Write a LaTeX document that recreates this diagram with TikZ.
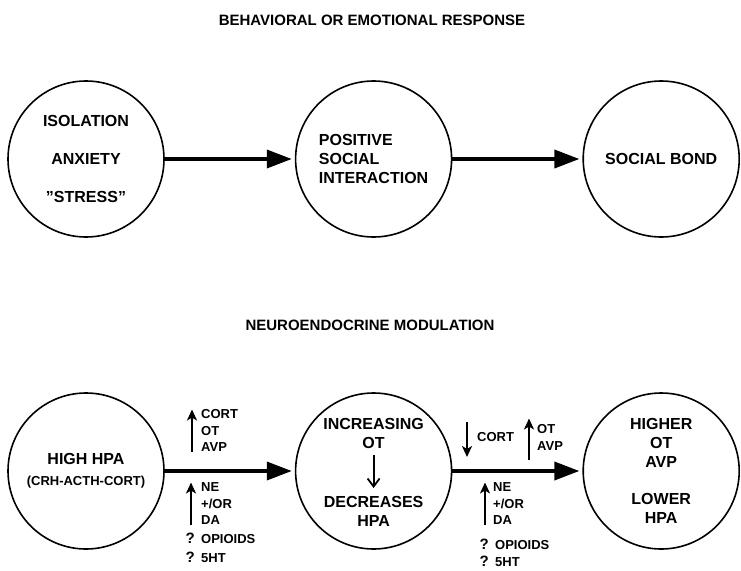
\documentclass[tikz,border=0pt]{standalone}
\usepackage{fontspec}
\setmainfont{Liberation Sans}
\usetikzlibrary{arrows.meta,positioning}

\begin{document}
\begin{tikzpicture}[
  x=1pt, y=-1pt,
  font=\bfseries\fontsize{16}{19}\selectfont,
  disc/.style={
    circle, draw=black, line width=1.6pt, minimum size=156pt,
    inner sep=0pt, align=center
  },
  core/.style={inner sep=0pt, align=center},
  heading/.style={font=\bfseries\fontsize{15}{18}\selectfont},
  lbl/.style={font=\bfseries\fontsize{13}{16.5}\selectfont, align=left, inner sep=0pt},
  qlbl/.style={font=\bfseries\fontsize{13}{19}\selectfont, align=left, inner sep=0pt},
  qmark/.style={font=\bfseries\fontsize{15}{19}\selectfont, align=left, inner sep=0pt},
  arr/.style={-{Triangle[length=25pt,width=18pt]}, line width=3.6pt, shorten >=3pt},
  tick/.style={-{Stealth[length=11pt,width=10pt,inset=3pt]}, line width=2.6pt},
  barb/.style={-{Straight Barb[length=8pt,width=12pt]}, line width=1.8pt},
]
\useasboundingbox (0,0) rectangle (741,570);

% headings
\node[heading] (behav) at (372,20) {BEHAVIORAL OR EMOTIONAL RESPONSE};
\node[heading] (neuro) at (370,325) {NEUROENDOCRINE MODULATION};

% behavioral row
\node[disc] (iso) at (86,159) {ISOLATION\\[19pt]ANXIETY\\[19pt]\symbol{34}STRESS\symbol{34}};
\node[disc, align=left, right=130pt of iso] (pos) {POSITIVE\\SOCIAL\\INTERACTION};
\node[disc, right=130pt of pos] (bond) {SOCIAL BOND};

\draw[arr] (iso) -- (pos);
\draw[arr] (pos) -- (bond);

% neuroendocrine row
\node[disc] (hpa) at (86,471) {HIGH HPA\\[2pt]{\fontsize{13}{16}\selectfont (CRH-ACTH-CORT)}};
\node[disc, right=130pt of hpa] (incr) {};
\node[core, above=22pt of incr.center] (incrtop) {INCREASING\\OT};
\node[core, below=25pt of incr.center] (incrbot) {DECREASES\\HPA};
\draw[barb, shorten <=6pt, shorten >=8pt] (incrtop) -- (incrbot);
\node[disc, right=130pt of incr] (higher) {HIGHER\\OT\\AVP\\[18pt]LOWER\\HPA};

\draw[arr] (hpa) -- (incr);
\draw[arr] (incr) -- (higher);

% first transition
\node[lbl, anchor=north west] (rise1) at (201,409.5) {CORT\\OT\\AVP};
\draw[tick] ([xshift=-9pt]rise1.south west) -- ([xshift=-9pt]rise1.north west);
\node[lbl, anchor=north west] (mono1) at (201,482.5) {NE\\+/OR\\DA};
\draw[tick] ([xshift=-10pt]mono1.south west) -- ([xshift=-10pt]mono1.north west);
\node[qlbl, anchor=north west] (opi1) at (201,534.5) {OPIOIDS\\5HT};
\node[qmark, anchor=north east] (q1) at ([xshift=-6pt,yshift=1.5pt]opi1.north west) {?\\?};

% second transition
\node[lbl, anchor=west] (fall2) at (477,437) {CORT};
\draw[tick] ([xshift=-10pt,yshift=15pt]fall2.west) -- ([xshift=-10pt,yshift=-20pt]fall2.west);
\node[lbl, anchor=north west] (rise2) at (537,424.5) {OT\\AVP};
\draw[tick] ([xshift=-8pt,yshift=-10pt]rise2.south west) -- ([xshift=-8pt,yshift=6pt]rise2.north west);
\node[lbl, anchor=north west] (mono2) at (493,482.5) {NE\\+/OR\\DA};
\draw[tick] ([xshift=-8pt]mono2.south west) -- ([xshift=-8pt]mono2.north west);
\node[qlbl, anchor=north west, font=\bfseries\fontsize{13}{17}\selectfont] (opi2) at (495,540.5) {OPIOIDS\\5HT};
\node[qmark, anchor=north east, font=\bfseries\fontsize{15}{17}\selectfont] (q2) at ([xshift=-6pt,yshift=1.5pt]opi2.north west) {?\\?};

\end{tikzpicture}
\end{document}
